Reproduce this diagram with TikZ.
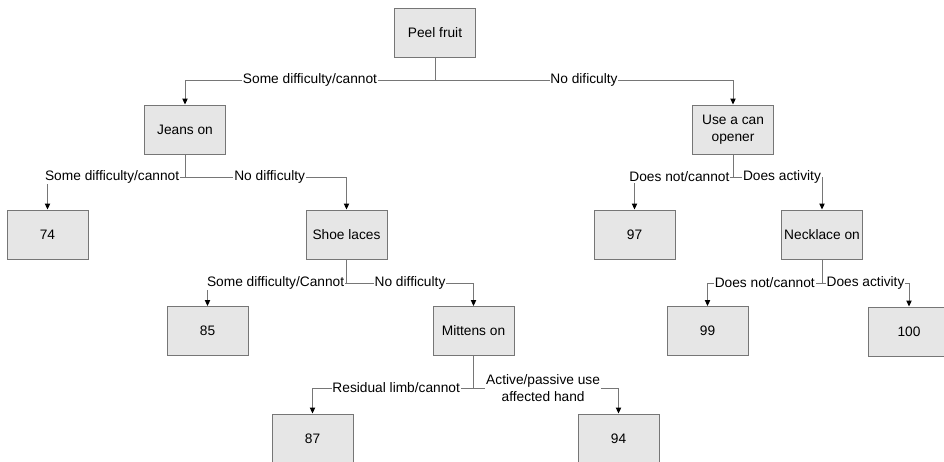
\documentclass[tikz,border=0pt]{standalone}
\usepackage{fontspec}
\setmainfont{Liberation Sans}
\usetikzlibrary{arrows.meta}
\definecolor{boxfill}{HTML}{E6E6E6}
\definecolor{edgec}{HTML}{767676}
\tikzset{
  box/.style={draw=edgec, fill=boxfill, line width=0.75pt, minimum width=60.75pt, minimum height=36.75pt, inner sep=0pt, align=center, font=\fontsize{10.3}{12.3}\selectfont},
  conn/.style={draw=edgec, line width=0.75pt, -{Triangle[length=4.5pt,width=4pt,black]}},
  lbl/.style={fill=white, inner sep=0.6pt, align=center, font=\fontsize{10.3}{12.6}\selectfont},
}

\begin{document}
\begin{tikzpicture}[x=0.75pt,y=-0.75pt]
 \useasboundingbox (0,0) rectangle (944,461);
 \node[box] (peel) at (435,32.5) {Peel fruit};
 \node[box] (jeans) at (185,129.5) {Jeans on};
 \node[box] (opener) at (733,129.5) {Use a can\\opener};
 \node[box] (r74) at (47.5,234.5) {74};
 \node[box] (laces) at (346.5,234.5) {Shoe laces};
 \node[box] (r97) at (634.5,234.5) {97};
 \node[box] (necklace) at (822,234.5) {Necklace on};
 \node[box] (r85) at (207.5,331) {85};
 \node[box] (mittens) at (473.5,331) {Mittens on};
 \node[box] (r99) at (707.5,331) {99};
 \node[box] (r100) at (909,331.5) {100};
 \node[box] (r87) at (312.5,438.5) {87};
 \node[box] (r94) at (618.5,438.5) {94};

 \coordinate (b0) at (435,80);
 \coordinate (b1) at (185,177);
 \coordinate (b2) at (733,177);
 \coordinate (b3) at (346.5,283);
 \coordinate (b4) at (822,283);
 \coordinate (b5) at (473.5,388);

 \draw[conn] (peel.south) -- (b0) -| node[lbl,pos=0.25] {Some difficulty/cannot} (jeans.north);
 \draw[conn] (b0) -| node[lbl,pos=0.25] {No dificulty} (opener.north);
 \draw[conn] (jeans.south) -- (b1) -| node[lbl,pos=0.265] {Some difficulty/cannot} (r74.north);
 \draw[conn] (b1) -| node[lbl,pos=0.262] {No difficulty} (laces.north);
 \draw[conn] (opener.south) -- (b2) -| node[lbl,pos=0.272] {Does not/cannot} (r97.north);
 \draw[conn] (b2) -| node[lbl,pos=0.275] {Does activity} (necklace.north);
 \draw[conn] (laces.south) -- (b3) -| node[lbl,pos=0.255] {Some difficulty/Cannot} (r85.north);
 \draw[conn] (b3) -| node[lbl,pos=0.25] {No difficulty} (mittens.north);
 \draw[conn] (necklace.south) -- (b4) -| node[lbl,pos=0.25] {Does not/cannot} (r99.north);
 \draw[conn] (b4) -| node[lbl,pos=0.25] {Does activity} (r100.north);
 \draw[conn] (mittens.south) -- (b5) -| node[lbl,pos=0.24] {Residual limb/cannot} (r87.north);
 \draw[conn] (b5) -| node[lbl,pos=0.24] {Active/passive use\\affected hand} (r94.north);
\end{tikzpicture}
\end{document}
